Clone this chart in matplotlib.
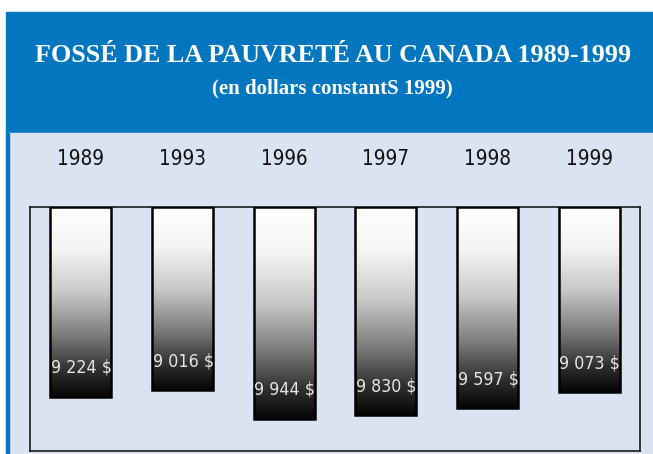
import numpy as np
import matplotlib
matplotlib.use("Agg")
import matplotlib.pyplot as plt
from matplotlib.patches import Rectangle
from matplotlib.colors import LinearSegmentedColormap
from matplotlib import font_manager as fm

# data
years = ["1989", "1993", "1996", "1997", "1998", "1999"]
gap = [9224, 9016, 9944, 9830, 9597, 9073]
labels = ["9 224 $", "9 016 $", "9 944 $", "9 830 $", "9 597 $", "9 073 $"]

title = "FOSSÉ DE LA PAUVRETÉ AU CANADA 1989-1999"
subtitle = "(en dollars constantS 1999)"

base = 3000
ymax = 11000
serif = ["Liberation Serif", "DejaVu Serif"]

# look for a narrow sans font, the labels in the reference are condensed
narrow_file = None
for f in fm.fontManager.ttflist:
    n = (f.name + " " + str(f.stretch)).lower()
    if f.weight in (400, "normal", "regular") and f.style == "normal" and \
            ("narrow" in n or "condensed" in n):
        narrow_file = f.fname
        break
if narrow_file:
    narrow = fm.FontProperties(fname=narrow_file)
else:
    narrow = fm.FontProperties(family="DejaVu Sans")

W, H = 653, 454
fig = plt.figure(figsize=(W / 100, H / 100), dpi=100)
fig.patch.set_facecolor("white")

def fx(px):
    return px / W

def fy(py):
    return 1 - py / H

# header + panel backgrounds
fig.add_artist(Rectangle((fx(6), fy(133)), fx(W - 6), 121 / H,
                         transform=fig.transFigure, color="#0277c0", zorder=0))
fig.add_artist(Rectangle((fx(6), 0), fx(W - 6), fy(133),
                         transform=fig.transFigure, color="#dbe2f2", zorder=0))
fig.add_artist(Rectangle((fx(6), 0), fx(2.5), fy(133),
                         transform=fig.transFigure, color="#0277c0", zorder=0))

ax = fig.add_axes([fx(30), fy(451), fx(610), 244 / H])
ax.set_facecolor("#dbe2f2")
for s in ax.spines.values():
    s.set_color("#1a1a1a")
    s.set_linewidth(1.2)

x = np.arange(len(years))
bw = 0.6
cmap = LinearSegmentedColormap.from_list(
    "fade", [(0, "#ffffff"), (0.22, "#f4f4f4"), (0.45, "#c8c8c8"),
             (0.68, "#7a7a7a"), (0.86, "#303030"), (1, "#050505")])
grad = np.linspace(0, 1, 256).reshape(-1, 1)

for i, v in enumerate(gap):
    ax.imshow(grad, cmap=cmap, origin="lower", aspect="auto",
              extent=(x[i] - bw / 2, x[i] + bw / 2, base, v), zorder=2)
ax.bar(x, np.array(gap) - base, bottom=base, width=bw, facecolor="none",
       edgecolor="black", linewidth=1.8, zorder=3)

ax.set_xlim(-0.5, len(years) - 0.5)
ax.set_ylim(ymax, base)
ax.set_xticks([])
ax.set_yticks([])

fig.canvas.draw()
r = fig.canvas.get_renderer()

def fit(t, width):
    w = t.get_window_extent(renderer=r).width
    t.set_fontsize(t.get_fontsize() * width / w)
    return t

for i, v in enumerate(gap):
    t = ax.text(x[i] - bw / 2 + 0.005, v - 950, labels[i], ha="left", va="center",
                fontproperties=narrow, fontsize=14, color="#e6e6e6", zorder=4)
    fit(t, 61)
    t = ax.text(x[i], 1.195, years[i], transform=ax.get_xaxis_transform(),
                ha="center", va="center", fontproperties=narrow, fontsize=15,
                color="#111111", clip_on=False)
    fit(t, 47)

# titles, fitted to the widths seen in the reference
def title_text(text, cx, cy, width, size):
    t = fig.text(fx(cx), fy(cy), text, ha="center", va="center",
                 color="white", fontweight="bold", family=serif, fontsize=size)
    return fit(t, width)

title_text(title, 333, 55, 597, 18)
title_text(subtitle, 332, 88, 240, 13)

fig.savefig("out.png", dpi=100, facecolor=fig.get_facecolor())
